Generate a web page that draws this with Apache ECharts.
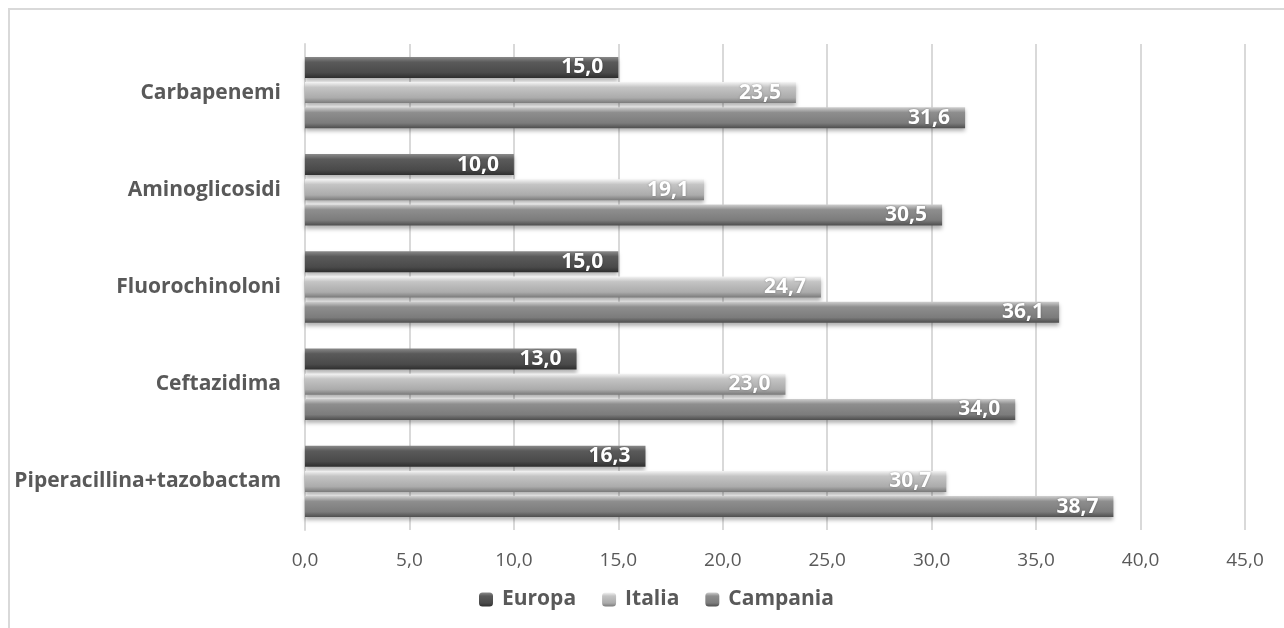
<!DOCTYPE html>
<html><head><meta charset="utf-8">
<script src="https://cdn.jsdelivr.net/npm/echarts@6/dist/echarts.min.js"></script>
<style>html,body{margin:0;padding:0;background:#fff}#c{width:1284px;height:628px}</style>
</head><body><div id="c"></div>
<script>
const categories = ['Piperacillina+tazobactam', 'Ceftazidima', 'Fluorochinoloni', 'Aminoglicosidi', 'Carbapenemi'];
const europa = [16.3, 13.0, 15.0, 10.0, 15.0];
const italia = [30.7, 23.0, 24.7, 19.1, 23.5];
const campania = [38.7, 34.0, 36.1, 30.5, 31.6];
const xTicks = [0, 5, 10, 15, 20, 25, 30, 35, 40, 45];

function grad(c0, c1, c2, c3) {
  return new echarts.graphic.LinearGradient(0, 0, 0, 1, [
    {offset: 0, color: c0}, {offset: 0.25, color: c1}, {offset: 0.75, color: c2}, {offset: 1, color: c3}
  ]);
}
const fmt = v => Number(v).toFixed(1).replace('.', ',');
const font = '"Open Sans", "Liberation Sans", sans-serif';
const lbl = {show: true, position: 'insideRight', distance: 15, color: '#fff', fontWeight: 'bold', fontSize: 21, fontFamily: font,
  formatter: p => fmt(p.value), textShadowColor: 'rgba(0,0,0,0.35)', textShadowBlur: 2};
const common = {type: 'bar', barWidth: 21, barGap: '20%', label: lbl};
const styles = {
  Europa: grad('#8a8a8a', '#5a5a5a', '#4a4a4a', '#2e2e2e'),
  Italia: grad('#f4f4f4', '#c4c4c4', '#ababab', '#7a7a7a'),
  Campania: grad('#cfcfcf', '#8e8e8e', '#7c7c7c', '#4e4e4e')
};
function mk(name, data) {
  return Object.assign({}, common, {name, data,
    itemStyle: {color: styles[name], shadowColor: 'rgba(0,0,0,0.3)', shadowBlur: 4, shadowOffsetY: 3}});
}
const chart = echarts.init(document.getElementById('c'), null, {renderer: 'canvas'});
chart.setOption({
  animation: false,
  backgroundColor: '#fff',
  graphic: [{type: 'rect', shape: {x: 9, y: 9, width: 1400, height: 800}, style: {fill: 'none', stroke: '#d9d9d9', lineWidth: 2}}],
  grid: {left: 305, right: 39, top: 44, bottom: 98},
  legend: {
    data: ['Europa', 'Italia', 'Campania'], top: 584, left: 474, itemWidth: 14, itemHeight: 14, itemGap: 26,
    textStyle: {color: '#595959', fontSize: 21, fontWeight: 'bold', fontFamily: font, padding: [0, 0, 0, 4]}
  },
  xAxis: {
    type: 'value', min: 0, max: 45, interval: 5,
    axisLine: {show: false}, axisTick: {show: false},
    splitLine: {lineStyle: {color: '#d9d9d9', width: 2}},
    axisLabel: {color: '#595959', fontSize: 19, fontFamily: font, margin: 21,
      formatter: v => xTicks.includes(v) ? fmt(v) : ''}
  },
  yAxis: {
    type: 'category', data: categories,
    axisLine: {show: true, lineStyle: {color: '#d9d9d9', width: 2}}, axisTick: {show: false},
    axisLabel: {color: '#595959', fontSize: 21, fontWeight: 'bold', fontFamily: font, margin: 24}
  },
  series: [mk('Europa', europa), mk('Italia', italia), mk('Campania', campania)]
});
</script></body></html>
